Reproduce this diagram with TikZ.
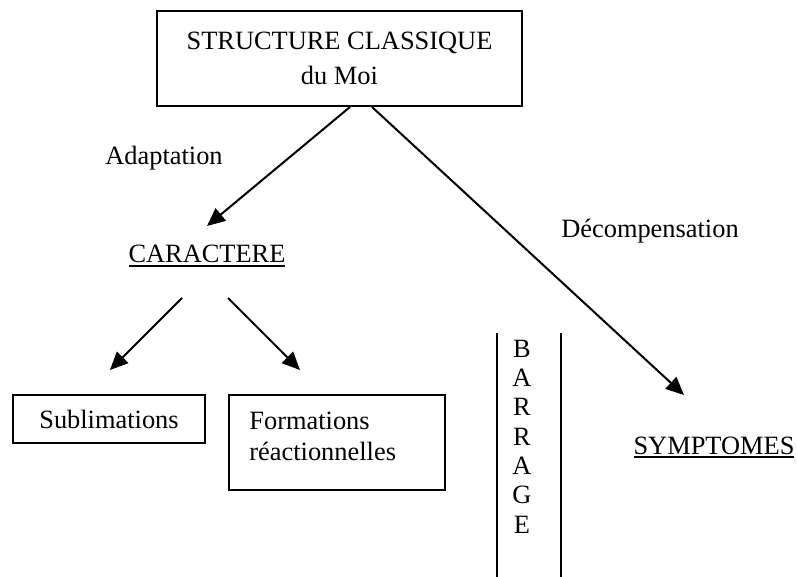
\documentclass[tikz,border=0pt]{standalone}
\usepackage{fontspec}
\setmainfont{Liberation Serif}
\usetikzlibrary{arrows.meta}
\newcommand\myul[1]{\setbox0\hbox{#1}\rlap{\rule[-2pt]{\wd0}{0.8pt}}\box0}
\begin{document}
\begin{tikzpicture}[x=0.5pt,y=-0.5pt,
  every node/.style={font=\fontsize{13.2}{17.5}\selectfont, inner sep=0pt},
  box/.style={draw, line width=1pt},
  arr/.style={line width=1pt, -{Triangle[length=9pt,width=8pt]}},
  barline/.style={line width=1pt}]
\useasboundingbox (0,0) rectangle (797,577);
% top box
\node[box, minimum width=182.5pt, minimum height=47.5pt, align=center] (top) at (339.5,58.5) {STRUCTURE CLASSIQUE\\du Moi};
\coordinate (tipA) at (207,226);
\coordinate (tipB) at (684,395);
\draw[arr] ([xshift=5.25pt]top.south) -- (tipA);
\draw[arr] ([xshift=16.25pt]top.south) -- (tipB);
% labels
\node[anchor=base] (adapt) at (164,165) {Adaptation};
\node[anchor=base] (dec) at (650,237) {Décompensation};
\node[anchor=base] (car) at (207,263) {\myul{CARACTERE}};
% lower arrows
\coordinate (c1) at (182,298);
\coordinate (c2) at (228,298);
\coordinate (t1) at (110,370);
\coordinate (t2) at (300,370);
\draw[arr] (c1) -- (t1);
\draw[arr] (c2) -- (t2);
% boxes
\node[box, minimum width=96pt, minimum height=24pt] (subl) at (109,419) {Sublimations};
\node[box, minimum width=108pt, minimum height=47.5pt] (formbox) at (337,442.5) {};
\node[anchor=north west, align=left, font=\fontsize{13.2}{15.5}\selectfont] (form) at (249,412) {Formations\\réactionnelles};
% barrage
\draw[barline] (497,333) -- (497,577);
\draw[barline] (561,333) -- (561,577);
\node[anchor=north, align=center, font=\fontsize{13.2}{14.67}\selectfont] (barrage) at (522,339.5) {B\\A\\R\\R\\A\\G\\E};
% symptomes
\node[anchor=base] (sym) at (714,454) {\myul{SYMPTOMES}};
\end{tikzpicture}
\end{document}
